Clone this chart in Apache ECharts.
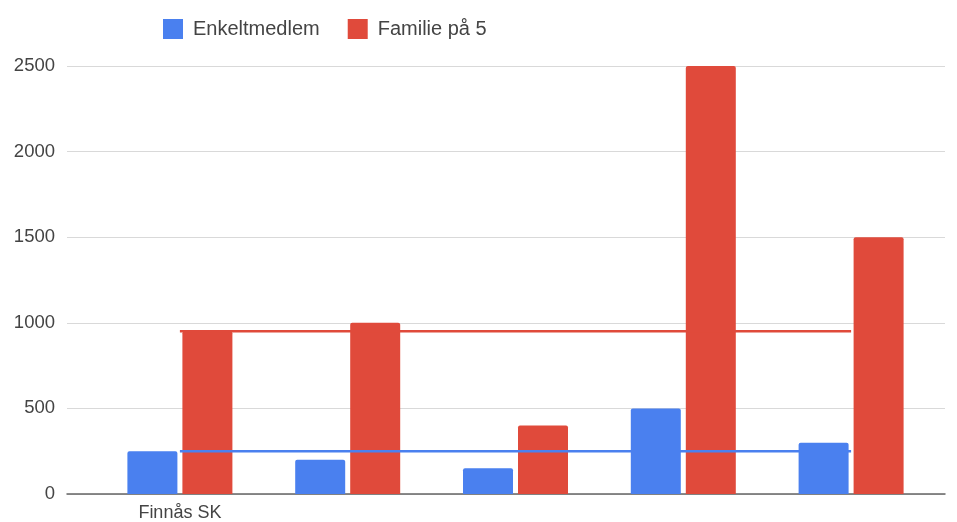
<!DOCTYPE html>
<html>
<head>
<meta charset="utf-8">
<script src="https://cdn.jsdelivr.net/npm/echarts@6/dist/echarts.min.js"></script>
<style>html,body{margin:0;padding:0;background:#fff;}#c{width:957px;height:522px;}</style>
</head>
<body>
<div id="c"></div>
<script>
const categories = ["Finnås SK", "", "", "", ""];
const enkeltmedlem = [250, 200, 150, 500, 300];
const familie = [950, 1000, 400, 2500, 1500];
const enkeltLine = [250, 250, 250, 250, 250];
const familieLine = [950, 950, 950, 950, 950];
const yTicks = [0, 500, 1000, 1500, 2000, 2500];

const BLUE = '#4a80ef';
const RED = '#e04a3b';
const FONT = '"Liberation Sans", Arial, sans-serif';

const chart = echarts.init(document.getElementById('c'));
chart.setOption({
  animation: false,
  backgroundColor: '#fff',
  legend: {
    left: 158, top: 14,
    icon: 'rect', itemWidth: 20, itemHeight: 20, itemGap: 28,
    data: ['Enkeltmedlem', 'Familie på 5'],
    textStyle: { fontFamily: FONT, fontSize: 20, color: '#444', padding: [0, 0, 0, 5] }
  },
  grid: [
    { left: 67, right: 12, top: 66, bottom: 28 },
    { left: 96, right: 22, top: 66, bottom: 28 }
  ],
  xAxis: [
    { gridIndex: 0, type: 'value', min: 0, max: 1, show: true,
      axisLine: { show: true, onZero: false, lineStyle: { color: '#666', width: 1.5 } },
      axisTick: { show: false }, axisLabel: { show: false }, splitLine: { show: false } },
    { gridIndex: 1, type: 'category', data: categories,
      axisLine: { show: false }, axisTick: { show: false },
      axisLabel: { interval: 0, fontFamily: FONT, fontSize: 18, color: '#444', margin: 10 } }
  ],
  yAxis: [
    { gridIndex: 0, type: 'value', min: yTicks[0], max: yTicks[yTicks.length - 1], interval: 500,
      axisLine: { show: false }, axisTick: { show: false },
      axisLabel: { fontFamily: FONT, fontSize: 18.5, color: '#444', margin: 12, formatter: v => String(v) },
      splitLine: { lineStyle: { color: '#d9d9d9', width: 1 } } },
    { gridIndex: 1, type: 'value', min: 0, max: 2500, interval: 500, show: false }
  ],
  series: [
    { name: 'Enkeltmedlem', type: 'bar', xAxisIndex: 1, yAxisIndex: 1, data: enkeltmedlem,
      barWidth: 50, barGap: '10%', itemStyle: { color: BLUE, borderRadius: [2, 2, 0, 0] }, z: 2 },
    { name: 'Familie på 5', type: 'bar', xAxisIndex: 1, yAxisIndex: 1, data: familie,
      barWidth: 50, barGap: '10%', itemStyle: { color: RED, borderRadius: [2, 2, 0, 0] }, z: 2 },
    { name: 'Familie snitt', type: 'line', xAxisIndex: 1, yAxisIndex: 1, data: familieLine,
      symbol: 'none', lineStyle: { color: RED, width: 2.5 }, z: 3, silent: true },
    { name: 'Enkelt snitt', type: 'line', xAxisIndex: 1, yAxisIndex: 1, data: enkeltLine,
      symbol: 'none', lineStyle: { color: BLUE, width: 2.5 }, z: 3, silent: true }
  ]
});
</script>
</body>
</html>
